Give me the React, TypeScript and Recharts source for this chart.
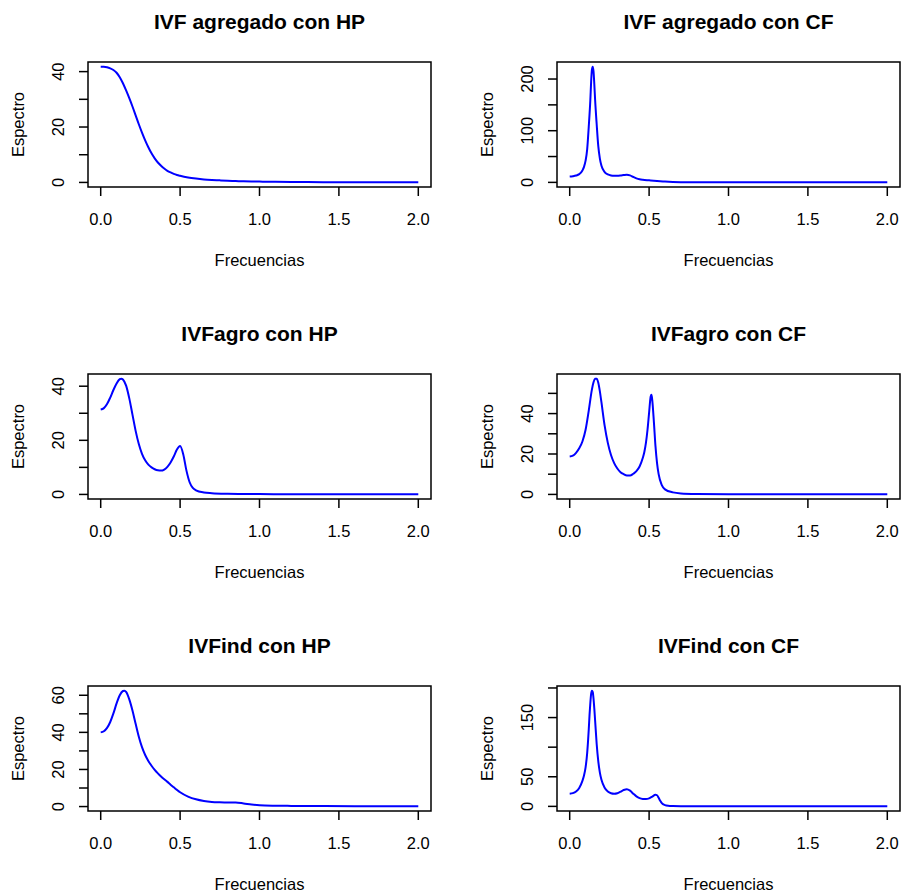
import { LineChart, Line, XAxis, YAxis, ReferenceArea, Label } from "recharts";

// IVF agregado con HP
const freqAggHP = [0, 0.02, 0.04, 0.06, 0.08, 0.1, 0.12, 0.14, 0.16, 0.18, 0.2, 0.22, 0.24, 0.26, 0.28, 0.3, 0.32, 0.34, 0.36, 0.38, 0.4, 0.42, 0.44, 0.46, 0.48, 0.5, 0.55, 0.6, 0.65, 0.7, 0.75, 0.8, 0.85, 0.9, 0.95, 1.0, 1.1, 1.2, 1.3, 1.4, 1.5, 1.6, 1.7, 1.8, 1.9, 2.0];
const specAggHP = [41.8, 41.8, 41.6, 41.2, 40.6, 39.6, 38.0, 35.8, 33.2, 30.4, 27.4, 24.2, 21.0, 18.0, 15.2, 12.7, 10.5, 8.7, 7.2, 6.0, 5.0, 4.2, 3.6, 3.1, 2.7, 2.4, 1.8, 1.4, 1.1, 0.9, 0.75, 0.6, 0.5, 0.42, 0.35, 0.3, 0.22, 0.16, 0.12, 0.09, 0.07, 0.05, 0.04, 0.03, 0.02, 0.02];

// IVF agregado con CF
const freqAggCF = [0, 0.02, 0.04, 0.06, 0.08, 0.09, 0.1, 0.11, 0.12, 0.13, 0.135, 0.14, 0.145, 0.15, 0.155, 0.16, 0.17, 0.18, 0.19, 0.2, 0.22, 0.24, 0.26, 0.28, 0.3, 0.32, 0.34, 0.36, 0.38, 0.4, 0.42, 0.44, 0.46, 0.5, 0.55, 0.6, 0.65, 0.7, 0.8, 1.0, 1.2, 1.5, 2.0];
const specAggCF = [11.5, 12.0, 13.2, 16, 23, 30, 42, 64, 108, 160, 195, 218, 224, 215, 190, 160, 112, 70, 46, 32, 20, 15.5, 13.5, 12.8, 12.8, 13.3, 14.2, 14.8, 13.5, 10.5, 7.8, 6.0, 5.0, 4.0, 2.8, 1.5, 0.7, 0.35, 0.15, 0.06, 0.03, 0.02, 0.01];

// IVFagro con HP
const freqAgroHP = [0, 0.02, 0.04, 0.06, 0.08, 0.1, 0.12, 0.13, 0.14, 0.16, 0.18, 0.2, 0.22, 0.24, 0.26, 0.28, 0.3, 0.32, 0.34, 0.36, 0.38, 0.4, 0.42, 0.44, 0.46, 0.48, 0.5, 0.52, 0.54, 0.56, 0.58, 0.6, 0.65, 0.7, 0.8, 1.0, 1.2, 1.5, 2.0];
const specAgroHP = [31.4, 31.9, 33.4, 35.8, 38.6, 41.0, 42.6, 42.8, 42.5, 40.2, 35.5, 29.5, 23.5, 18.6, 15.0, 12.6, 11.0, 10.0, 9.3, 8.9, 8.8, 9.2, 10.2, 11.8, 14.0, 16.6, 17.9, 14.8, 8.8, 4.5, 2.4, 1.5, 0.7, 0.45, 0.25, 0.12, 0.07, 0.04, 0.02];

// IVFagro con CF
const freqAgroCF = [0, 0.02, 0.04, 0.06, 0.08, 0.1, 0.12, 0.14, 0.15, 0.16, 0.17, 0.18, 0.19, 0.2, 0.22, 0.24, 0.26, 0.28, 0.3, 0.32, 0.34, 0.36, 0.38, 0.4, 0.42, 0.44, 0.46, 0.47, 0.48, 0.49, 0.5, 0.51, 0.515, 0.52, 0.53, 0.54, 0.55, 0.56, 0.58, 0.6, 0.65, 0.7, 0.8, 1.0, 1.2, 1.5, 2.0];
const specAgroCF = [18.8, 19.2, 20.6, 22.8, 26.2, 32.0, 41.5, 52.0, 55.5, 57.2, 57.3, 55.3, 51.0, 45.5, 34.0, 25.5, 19.5, 15.5, 12.8, 11.0, 10.0, 9.3, 9.3, 10.2, 11.5, 13.8, 18.0, 21.0, 25.5, 32.0, 40.5, 48.5, 49.3, 46.5, 36.0, 24.0, 15.5, 10.0, 4.6, 2.5, 1.0, 0.5, 0.25, 0.12, 0.07, 0.04, 0.02];

// IVFind con HP
const freqIndHP = [0, 0.02, 0.04, 0.06, 0.08, 0.1, 0.12, 0.14, 0.15, 0.16, 0.18, 0.2, 0.22, 0.24, 0.26, 0.28, 0.3, 0.32, 0.34, 0.36, 0.38, 0.4, 0.42, 0.44, 0.46, 0.48, 0.5, 0.55, 0.6, 0.65, 0.7, 0.75, 0.8, 0.85, 0.9, 0.95, 1.0, 1.1, 1.2, 1.4, 1.6, 1.8, 2.0];
const specIndHP = [40.0, 40.6, 42.4, 45.6, 50.2, 55.6, 60.0, 62.3, 62.5, 61.8, 57.8, 51.8, 44.6, 37.6, 32.0, 27.8, 24.6, 22.0, 19.8, 17.9, 16.2, 14.7, 13.3, 11.8, 10.4, 9.0, 7.7, 5.4, 3.9, 3.0, 2.5, 2.3, 2.2, 2.2, 1.7, 1.1, 0.7, 0.45, 0.35, 0.25, 0.18, 0.12, 0.1];

// IVFind con CF
const freqIndCF = [0, 0.02, 0.04, 0.06, 0.08, 0.09, 0.1, 0.11, 0.12, 0.125, 0.13, 0.135, 0.14, 0.145, 0.15, 0.155, 0.16, 0.17, 0.18, 0.19, 0.2, 0.22, 0.24, 0.26, 0.28, 0.3, 0.32, 0.34, 0.36, 0.38, 0.4, 0.42, 0.44, 0.46, 0.48, 0.5, 0.52, 0.54, 0.55, 0.56, 0.57, 0.58, 0.6, 0.62, 0.65, 0.7, 0.8, 1.0, 1.2, 1.5, 2.0];
const specIndCF = [21.3, 22.3, 25.0, 31.0, 43.0, 52.0, 66.0, 90.0, 130.0, 155, 175, 190, 195.5, 193, 182, 165, 145, 105, 76, 57, 45, 31.5, 25.0, 22.3, 21.5, 22.3, 24.8, 27.6, 29.0, 26.5, 21.5, 17.0, 14.0, 12.6, 12.3, 13.5, 16.5, 19.6, 18.8, 14.5, 9.5, 5.5, 2.2, 1.0, 0.5, 0.25, 0.12, 0.06, 0.04, 0.02, 0.01];

const xTicks = [0, 0.5, 1, 1.5, 2];

const FONT = '"Liberation Sans", Arial, Helvetica, sans-serif';
const BOX_L = 88;
const BOX_T = 62;
const BOX_W = 343;
const BOX_H = 125;
const AXIS_H = 82;
const CHART_W = 451;
const CHART_H = BOX_T + BOX_H + AXIS_H;

interface PanelProps {
  title: string;
  freq: number[];
  spec: number[];
  yTicks: number[];
  yLabels: number[];
  left: number;
  top: number;
}

function Panel({ title, freq, spec, yTicks, yLabels, left, top }: PanelProps) {
  const data = freq.map((f, i) => ({ f, s: spec[i] }));
  const fmin = Math.min(...freq);
  const fmax = Math.max(...freq);
  const smin = Math.min(...spec);
  const smax = Math.max(...spec);
  const xPad = (fmax - fmin) * 0.04;
  const yPad = (smax - smin) * 0.04;
  const xDom: [number, number] = [fmin - xPad, fmax + xPad];
  const yDom: [number, number] = [smin - yPad, smax + yPad];

  const XTick = (p: any) => (
    <text x={p.x} y={p.y + 22.5} textAnchor="middle" dominantBaseline="central" fontSize={16.5} fontFamily={FONT} fill="#000">
      {Number(p.payload.value).toFixed(1)}
    </text>
  );

  const YTick = (p: any) => {
    const v = p.payload.value;
    if (!yLabels.includes(v)) return <g />;
    const cx = p.x - 20.7;
    return (
      <text x={cx} y={p.y} transform={`rotate(-90 ${cx} ${p.y})`} textAnchor="middle" dominantBaseline="central" fontSize={16.5} fontFamily={FONT} fill="#000">
        {v}
      </text>
    );
  };

  const xTitle = () => (
    <text x={BOX_L + BOX_W / 2} y={BOX_T + BOX_H + 72.5} textAnchor="middle" dominantBaseline="central" fontSize={16.5} fontFamily={FONT} fill="#000">
      Frecuencias
    </text>
  );

  const yTitle = () => {
    const cx = BOX_L - 70;
    const cy = BOX_T + BOX_H / 2;
    return (
      <text x={cx} y={cy} transform={`rotate(-90 ${cx} ${cy})`} textAnchor="middle" dominantBaseline="central" fontSize={16.5} fontFamily={FONT} fill="#000">
        Espectro
      </text>
    );
  };

  return (
    <div style={{ position: "absolute", left, top, width: CHART_W, height: CHART_H }}>
      <div
        style={{
          position: "absolute",
          left: BOX_L,
          top: BOX_T - 40 - 15,
          width: BOX_W,
          height: 30,
          lineHeight: "30px",
          textAlign: "center",
          fontFamily: FONT,
          fontWeight: "bold",
          fontSize: 21,
          color: "#000",
          whiteSpace: "nowrap",
        }}
      >
        {title}
      </div>
      <LineChart width={CHART_W} height={CHART_H} data={data} margin={{ top: BOX_T, right: CHART_W - BOX_L - BOX_W, bottom: 0, left: 0 }}>
        <XAxis
          dataKey="f"
          type="number"
          domain={xDom}
          ticks={xTicks}
          allowDataOverflow
          interval={0}
          height={AXIS_H}
          axisLine={false}
          tickLine={{ stroke: "#000", strokeWidth: 1.5 }}
          tickSize={9}
          tickMargin={0}
          tick={XTick}
        >
          <Label content={xTitle} />
        </XAxis>
        <YAxis
          type="number"
          domain={yDom}
          ticks={yTicks}
          allowDataOverflow
          interval={0}
          width={BOX_L}
          axisLine={false}
          tickLine={{ stroke: "#000", strokeWidth: 1.5 }}
          tickSize={9}
          tickMargin={0}
          tick={YTick}
        >
          <Label content={yTitle} />
        </YAxis>
        <Line type="monotone" dataKey="s" stroke="#0000ff" strokeWidth={2} dot={false} isAnimationActive={false} />
        <ReferenceArea x1={xDom[0]} x2={xDom[1]} y1={yDom[0]} y2={yDom[1]} fill="none" stroke="#000" strokeWidth={1.5} ifOverflow="visible" />
      </LineChart>
    </div>
  );
}

export default function App() {
  return (
    <div style={{ position: "absolute", left: 0, top: 0, width: 903, height: 893, overflow: "hidden", background: "#fff" }}>
      <Panel title="IVF agregado con HP" freq={freqAggHP} spec={specAggHP} yTicks={[0, 10, 20, 30, 40]} yLabels={[0, 20, 40]} left={0} top={0} />
      <Panel title="IVF agregado con CF" freq={freqAggCF} spec={specAggCF} yTicks={[0, 50, 100, 150, 200]} yLabels={[0, 100, 200]} left={469} top={0} />
      <Panel title="IVFagro con HP" freq={freqAgroHP} spec={specAgroHP} yTicks={[0, 10, 20, 30, 40]} yLabels={[0, 20, 40]} left={0} top={312} />
      <Panel title="IVFagro con CF" freq={freqAgroCF} spec={specAgroCF} yTicks={[0, 10, 20, 30, 40, 50]} yLabels={[0, 20, 40]} left={469} top={312} />
      <Panel title="IVFind con HP" freq={freqIndHP} spec={specIndHP} yTicks={[0, 10, 20, 30, 40, 50, 60]} yLabels={[0, 20, 40, 60]} left={0} top={624} />
      <Panel title="IVFind con CF" freq={freqIndCF} spec={specIndCF} yTicks={[0, 50, 100, 150, 200]} yLabels={[0, 50, 150]} left={469} top={624} />
    </div>
  );
}
